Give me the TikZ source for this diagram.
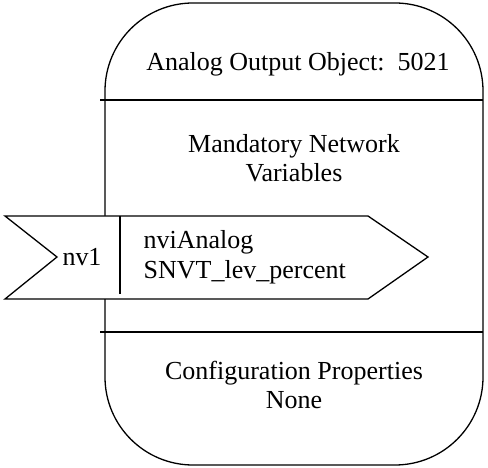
\documentclass[tikz,border=0pt]{standalone}
\usepackage{fontspec}
\setmainfont{Liberation Serif}
\usetikzlibrary{positioning}

\begin{document}
\begin{tikzpicture}[
    x=1pt, y=-1pt,
    line width=1.3pt,
    txt/.style={align=center, font=\fontsize{26}{29}\selectfont, inner sep=0pt},
    lefttxt/.style={align=left, font=\fontsize{26}{30}\selectfont, inner sep=0pt, anchor=west}
]
\useasboundingbox (0,0) rectangle (488,468);
% object body
\draw[rounded corners=88pt] (105,3) rectangle (483,465);
\draw (100,100) -- (483,100);
\draw (100,332) -- (483,332);
% input variable flag
\draw[fill=white] (5,216) -- (368,216) -- (428,257) -- (368,299) -- (5,299) -- (57,257) -- cycle;
\draw (120,216) -- (120,294);
% texts
\node[txt] (title) at (298,64) {Analog Output Object:\ \ 5021};
\node[txt] (mand) at (294,158) {Mandatory Network\\Variables};
\node[txt] (nv) at (82,257) {nv1};
\node[lefttxt] (nvi) at (143,257) {nviAnalog\\SNVT\_lev\_percent};
\node[txt] (conf) at (294,385) {Configuration Properties\\None};
\end{tikzpicture}
\end{document}
